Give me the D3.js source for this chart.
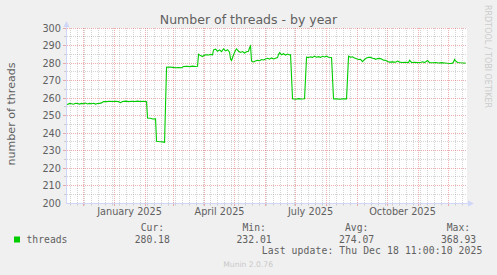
<!DOCTYPE html>
<html><head><meta charset="utf-8">
<script src="https://cdn.jsdelivr.net/npm/d3@7"></script>
<style>
html,body{margin:0;padding:0;background:#f0f0f0;}
svg{display:block;}
</style></head><body>
<svg id="chart" width="497" height="275"></svg>
<script>
const titleText = "Number of threads - by year";
const yLabelText = "number of threads";
const yTickValues = [200, 210, 220, 230, 240, 250, 260, 270, 280, 290, 300];
const xLabelMonths = ["2025-01-01", "2025-04-01", "2025-07-01", "2025-10-01"];
const seriesName = "threads";
const legendHeaders = ["Cur:", "Min:", "Avg:", "Max:"];
const legendValues = ["280.18", "232.01", "274.07", "368.93"];
const lastUpdate = "Last update: Thu Dec 18 11:00:10 2025";
const watermark = "RRDTOOL / TOBI OETIKER";
const versionText = "Munin 2.0.76";

const dates = [
"2024-11-13","2024-11-15","2024-11-17","2024-11-19","2024-11-21","2024-11-23","2024-11-25","2024-11-27","2024-11-29",
"2024-12-01","2024-12-03","2024-12-05","2024-12-07","2024-12-09","2024-12-11","2024-12-13","2024-12-15","2024-12-17","2024-12-19",
"2024-12-21","2024-12-24","2024-12-27","2024-12-30","2025-01-02","2025-01-05","2025-01-07","2025-01-09","2025-01-12","2025-01-15",
"2025-01-18","2025-01-21","2025-01-24","2025-01-27","2025-01-30","2025-02-02","2025-02-03","2025-02-06","2025-02-08","2025-02-11",
"2025-02-12","2025-02-14","2025-02-16","2025-02-18","2025-02-20","2025-02-22","2025-02-25","2025-02-28","2025-03-03","2025-03-06",
"2025-03-09","2025-03-11","2025-03-14","2025-03-17","2025-03-20","2025-03-23","2025-03-25","2025-03-26","2025-03-28","2025-03-30",
"2025-04-01","2025-04-03","2025-04-05","2025-04-07","2025-04-09","2025-04-10","2025-04-12","2025-04-14","2025-04-16","2025-04-18",
"2025-04-20","2025-04-22","2025-04-24","2025-04-26","2025-04-27","2025-04-28","2025-04-30","2025-05-02","2025-05-03","2025-05-05",
"2025-05-07","2025-05-09","2025-05-11","2025-05-13","2025-05-15","2025-05-16","2025-05-17","2025-05-18","2025-05-20","2025-05-22",
"2025-05-24","2025-05-26","2025-05-28","2025-05-30","2025-06-01","2025-06-03","2025-06-05","2025-06-07","2025-06-09","2025-06-11",
"2025-06-13","2025-06-14","2025-06-15","2025-06-17","2025-06-19","2025-06-21","2025-06-23","2025-06-25","2025-06-26","2025-06-28",
"2025-07-01","2025-07-04","2025-07-07","2025-07-10","2025-07-12","2025-07-14","2025-07-16","2025-07-18","2025-07-20","2025-07-22",
"2025-07-24","2025-07-26","2025-07-28","2025-07-30","2025-08-01","2025-08-03","2025-08-06","2025-08-08","2025-08-11","2025-08-14",
"2025-08-17","2025-08-21","2025-08-23","2025-08-25","2025-08-27","2025-08-29","2025-08-31","2025-09-02","2025-09-04","2025-09-06",
"2025-09-08","2025-09-10","2025-09-12","2025-09-14","2025-09-16","2025-09-18","2025-09-19","2025-09-21","2025-09-23","2025-09-25",
"2025-09-27","2025-09-29","2025-10-01","2025-10-03","2025-10-06","2025-10-09","2025-10-11","2025-10-13","2025-10-16","2025-10-19",
"2025-10-22","2025-10-23","2025-10-25","2025-10-28","2025-10-31","2025-11-03","2025-11-05","2025-11-07","2025-11-10","2025-11-12",
"2025-11-15","2025-11-18","2025-11-21","2025-11-24","2025-11-27","2025-11-30","2025-12-03","2025-12-05","2025-12-06","2025-12-07",
"2025-12-08","2025-12-10","2025-12-13","2025-12-16","2025-12-18"
];
const threads = [
257.0,256.6,257.2,257.0,256.7,257.3,257.1,256.8,257.2,
257.0,257.4,256.9,257.2,257.0,257.3,256.8,257.1,257.2,257.5,
258.3,258.2,258.4,258.3,258.4,258.2,257.6,258.3,258.5,258.2,
258.4,258.3,258.5,258.3,258.4,258.2,248.8,248.7,248.3,248.4,
235.6,235.4,235.3,235.2,235.0,277.9,278.0,277.8,277.6,277.7,
277.6,278.3,278.4,278.2,278.5,278.3,278.4,285.3,284.5,284.0,
284.8,285.0,284.9,285.2,285.0,287.8,288.2,287.0,287.8,286.8,
288.4,287.2,287.9,286.5,282.5,281.7,285.0,287.6,288.4,287.0,
286.3,286.8,286.0,286.7,287.0,289.0,290.0,281.3,280.9,281.4,
281.8,281.6,282.3,282.0,282.6,283.0,282.5,283.2,282.6,283.0,
283.4,285.2,286.2,285.0,285.6,284.8,285.4,284.9,285.0,259.8,
259.6,259.9,259.7,259.8,283.6,283.4,283.8,283.5,284.2,283.6,
283.9,283.5,284.1,283.7,284.2,283.6,283.4,259.7,259.8,259.6,
259.8,259.8,284.2,283.6,283.8,283.2,282.7,282.3,282.4,281.1,
282.3,283.2,283.6,283.5,283.0,282.8,282.3,282.8,282.9,282.6,
281.9,281.8,281.2,280.8,280.9,280.7,281.4,280.8,280.6,280.7,
280.5,281.9,280.6,280.7,280.5,280.6,281.0,280.5,281.7,280.5,
280.4,280.6,280.3,280.5,280.3,280.1,280.0,280.2,280.9,282.3,
281.5,280.6,280.4,280.3,280.2
];

const svg = d3.select("#chart");
const parse = d3.timeParse("%Y-%m-%d");
const tStart = new Date(2024, 10, 13, 11, 0, 10);
const tEnd = new Date(2025, 11, 18, 11, 0, 10);
const x = d3.scaleTime().domain([tStart, tEnd]).range([66, 466]);
const y = d3.scaleLinear().domain([200, 300]).range([203.5, 28.5]);
const yRow = v => Math.floor(203 - (v - 200) * 1.75) + 0.5;
const xCol = d => Math.floor(x(d)) + 0.5;

const FONT = "DejaVu Sans, sans-serif";
const MONO = "DejaVu Sans Mono, monospace";
const fontCol = "#606060";
const gridCol = "rgba(143,143,143,0.38)";
const mgridCol = "rgba(222,79,79,0.45)";
const axisCol = "#CFD6F8";

// canvas
svg.append("rect").attr("x", 67).attr("y", 28).attr("width", 400).attr("height", 175).attr("fill", "#ffffff");

// grid
const g = svg.append("g");
const minorY = d3.range(205, 300, 5).filter(v => v % 10 !== 0);
const months = d3.timeMonth.range(tStart, tEnd);
const weeks = d3.timeMonday.range(tStart, tEnd).filter(w => !months.some(m => Math.floor(x(m)) === Math.floor(x(w))));

g.selectAll(".hmin").data(minorY).join("line")
  .attr("x1", 67).attr("x2", 467).attr("y1", yRow).attr("y2", yRow)
  .attr("stroke", gridCol).attr("stroke-dasharray", "1,1");
g.selectAll(".vmin").data(weeks).join("line")
  .attr("x1", xCol).attr("x2", xCol).attr("y1", 28).attr("y2", 203)
  .attr("stroke", gridCol).attr("stroke-dasharray", "1,1");
g.selectAll(".hmaj").data(yTickValues.filter(v => v > 200)).join("line")
  .attr("x1", 67).attr("x2", 467).attr("y1", yRow).attr("y2", yRow)
  .attr("stroke", mgridCol).attr("stroke-dasharray", "1,1");
g.selectAll(".vmaj").data(months).join("line")
  .attr("x1", xCol).attr("x2", xCol).attr("y1", 28).attr("y2", 203)
  .attr("stroke", mgridCol).attr("stroke-dasharray", "1,1");

// small ticks
g.selectAll(".tvmin").data(weeks).join("line")
  .attr("x1", xCol).attr("x2", xCol).attr("y1", 203).attr("y2", 205.5).attr("stroke", gridCol);
g.selectAll(".tvmaj").data(months).join("line")
  .attr("x1", xCol).attr("x2", xCol).attr("y1", 203).attr("y2", 206).attr("stroke", mgridCol);
g.selectAll(".thmin").data(minorY).join("line")
  .attr("x1", 64).attr("x2", 66).attr("y1", yRow).attr("y2", yRow).attr("stroke", gridCol);
g.selectAll(".thmaj").data(yTickValues.filter(v => v > 200)).join("line")
  .attr("x1", 63).attr("x2", 66).attr("y1", yRow).attr("y2", yRow).attr("stroke", mgridCol);

// axes
svg.append("line").attr("x1", 66).attr("x2", 469).attr("y1", 203.5).attr("y2", 203.5).attr("stroke", axisCol);
svg.append("line").attr("x1", 66.5).attr("x2", 66.5).attr("y1", 204).attr("y2", 25).attr("stroke", axisCol);
svg.append("path").attr("d", "M63.5,27 L69.5,27 L66.5,21 Z").attr("fill", axisCol);
svg.append("path").attr("d", "M468,200.5 L468,206.5 L474,203.5 Z").attr("fill", axisCol);

// data line
svg.append("clipPath").attr("id", "clip").append("rect").attr("x", 67).attr("y", 28).attr("width", 400).attr("height", 175);
const pts = dates.map((d, i) => ({ t: parse(d), v: threads[i] }));
svg.append("path").datum(pts)
  .attr("clip-path", "url(#clip)")
  .attr("fill", "none").attr("stroke", "#00cc00").attr("stroke-width", 1.1)
  .attr("d", d3.line().x(d => x(d.t)).y(d => y(d.v)));

// y tick labels
svg.selectAll(".ylab").data(yTickValues).join("text")
  .attr("x", 61).attr("y", v => yRow(v) + 3.4)
  .attr("text-anchor", "end").attr("font-family", FONT).attr("font-size", 9.72).attr("fill", fontCol)
  .text(v => v);

// x labels
svg.selectAll(".xlab").data(xLabelMonths.map(parse)).join("text")
  .attr("x", d => x(d3.timeDay.offset(d, 15))).attr("y", 215)
  .attr("text-anchor", "middle").attr("font-family", FONT).attr("font-size", 9.72).attr("fill", fontCol)
  .text(d => d3.timeFormat("%B %Y")(d));

// title
svg.append("text").attr("x", 248.5).attr("y", 24).attr("text-anchor", "middle")
  .attr("font-family", FONT).attr("font-size", 12.5).attr("fill", fontCol).text(titleText);

// y label
svg.append("text").attr("transform", "translate(15,114) rotate(-90)").attr("text-anchor", "middle")
  .attr("font-family", FONT).attr("font-size", 11.1).attr("fill", fontCol).text(yLabelText);

// watermark
svg.append("text").attr("transform", "translate(485,5) rotate(90)").attr("text-anchor", "start")
  .attr("font-family", FONT).attr("font-size", 8).attr("fill", "#cccccc").text(watermark);

// legend
svg.append("rect").attr("x", 14).attr("y", 236.5).attr("width", 6).attr("height", 6).attr("fill", "#00cc00");
svg.append("text").attr("x", 26.5).attr("y", 242.5).attr("font-family", MONO).attr("font-size", 9.72).attr("fill", fontCol).text(seriesName);
const hdrX = [140.7, 242.5, 345, 446.7];
const valX = [134.7, 236.5, 339, 441];
svg.selectAll(".lh").data(legendHeaders).join("text")
  .attr("x", (d, i) => hdrX[i]).attr("y", 230.6)
  .attr("font-family", MONO).attr("font-size", 9.72).attr("fill", fontCol).text(d => d);
svg.selectAll(".lv").data(legendValues).join("text")
  .attr("x", (d, i) => valX[i]).attr("y", 242.5)
  .attr("font-family", MONO).attr("font-size", 9.72).attr("fill", fontCol).text(d => d);
svg.append("text").attr("x", 261.8).attr("y", 254.3).attr("textLength", 220.5).attr("lengthAdjust", "spacing")
  .attr("font-family", MONO).attr("font-size", 9.72).attr("fill", fontCol).text(lastUpdate);
svg.append("text").attr("x", 223.3).attr("y", 266.7)
  .attr("font-family", FONT).attr("font-size", 7.6).attr("fill", "#c8c8c8").text(versionText);
</script>
</body></html>
